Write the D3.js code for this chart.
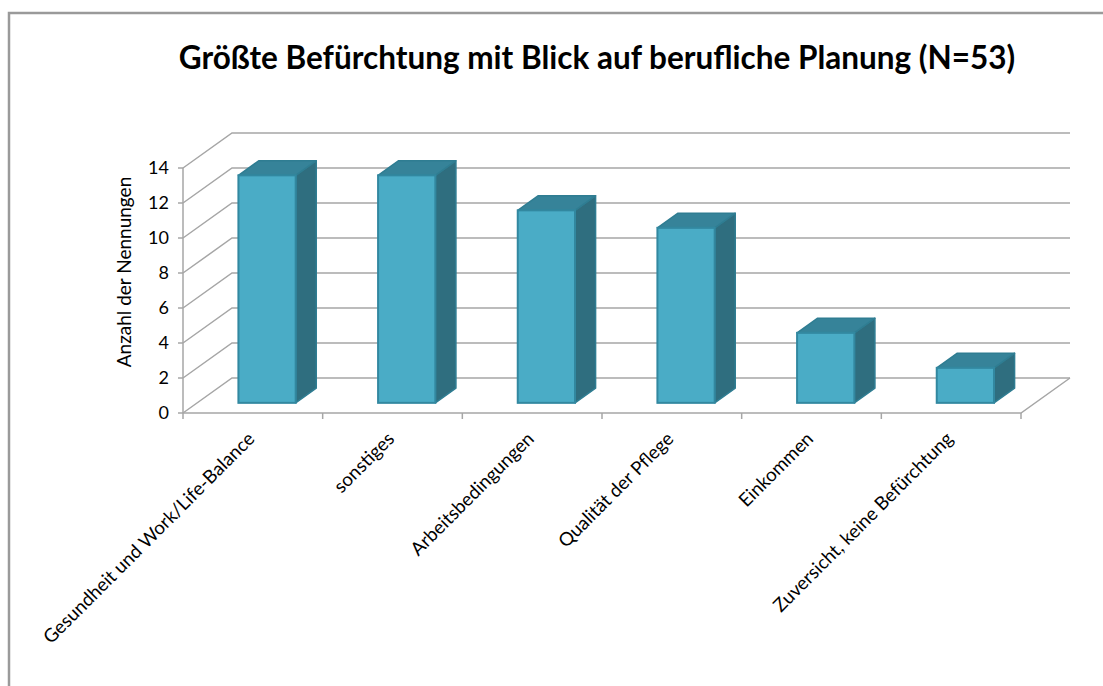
<!DOCTYPE html>
<html><head><meta charset="utf-8">
<script src="https://cdn.jsdelivr.net/npm/d3@7"></script>
<style>
html,body{margin:0;padding:0;background:#fff;}
text{font-family:Lato, "Open Sans", sans-serif;fill:#000;}
</style></head>
<body>
<svg id="chart" width="1103" height="686"></svg>
<script>
const title = "Größte Befürchtung mit Blick auf berufliche Planung (N=53)";
const yTitle = "Anzahl der Nennungen";
const categories = ["Gesundheit und Work/Life-Balance","sonstiges","Arbeitsbedingungen","Qualität der Pflege","Einkommen","Zuversicht, keine Befürchtung"];
const values = [13,13,11,10,4,2];
const yTicks = [0,2,4,6,8,10,12,14];

const svg = d3.select("#chart");
svg.append("rect").attr("x",0).attr("y",0).attr("width",1103).attr("height",686).attr("fill","#fff");
svg.append("path").attr("d","M9,700 L9,13 L1120,13").attr("fill","none").attr("stroke","#9a9a9a").attr("stroke-width",2.5);

const x0 = 183, x1 = 1021, yBase = 413, yTop = 168;
const depthX = 49, depthY = -35;
const x = d3.scaleBand().domain(categories).range([x0,x1]).padding(0);
const y = d3.scaleLinear().domain([0,14]).range([yBase,yTop]);

const grid = svg.append("g").attr("stroke","#a6a6a6").attr("stroke-width",1.5).attr("fill","none");
yTicks.forEach(t=>{
  const yy = y(t);
  grid.append("path").attr("d",`M${x0},${yy} L${x0+depthX},${yy+depthY} L${x1+depthX},${yy+depthY}`);
});
grid.append("path").attr("d",`M${x0},${yBase} L${x1},${yBase} L${x1+depthX},${yBase+depthY}`);
grid.append("line").attr("x1",x0).attr("x2",x0).attr("y1",yBase).attr("y2",yTop);
yTicks.forEach(t=>{
  grid.append("line").attr("x1",x0-5).attr("x2",x0).attr("y1",y(t)).attr("y2",y(t));
});
[...categories.map(c=>x(c)), x1].forEach(px=>{
  grid.append("line").attr("x1",px).attr("x2",px).attr("y1",yBase).attr("y2",yBase+6);
});

svg.append("g").selectAll("text").data(yTicks).join("text")
  .attr("x",x0-14).attr("y",d=>y(d)).attr("dy","0.35em")
  .attr("text-anchor","end").attr("font-size",18).text(d=>d);

svg.append("text").attr("transform","translate(131,272) rotate(-90)")
  .attr("text-anchor","middle").attr("font-size",19).text(yTitle);

svg.append("text").attr("x",597).attr("y",69).attr("text-anchor","middle")
  .attr("font-size",31.5).attr("font-weight","bold").text(title);

const f0 = 0.29, f1 = 0.71;
const bw = x.bandwidth()*0.41;
const bars = svg.append("g");
categories.forEach((c,i)=>{
  const v = values[i];
  const cx = x(c)+x.bandwidth()/2 + f0*depthX;
  const xl = cx - bw/2, xr = cx + bw/2;
  const yb = y(0) + f0*depthY;
  const yt = y(v) + f0*depthY;
  const ddx = (f1-f0)*depthX, ddy = (f1-f0)*depthY;
  bars.append("path").attr("d",`M${xr},${yb} L${xr+ddx},${yb+ddy} L${xr+ddx},${yt+ddy} L${xr},${yt} Z`)
    .attr("fill","#2f6e7f").attr("stroke","#2f7d92").attr("stroke-width",1.5).attr("stroke-linejoin","round");
  bars.append("path").attr("d",`M${xl},${yt} L${xl+ddx},${yt+ddy} L${xr+ddx},${yt+ddy} L${xr},${yt} Z`)
    .attr("fill","#368399").attr("stroke","#2f7d92").attr("stroke-width",1.5).attr("stroke-linejoin","round");
  bars.append("rect").attr("x",xl).attr("y",yt).attr("width",bw).attr("height",yb-yt)
    .attr("fill","#4aacc6").attr("stroke","#3288a0").attr("stroke-width",2);
});

svg.append("g").selectAll("text").data(categories).join("text")
  .attr("transform",d=>`translate(${x(d)+x.bandwidth()/2+3},${yBase+27}) rotate(-45)`)
  .attr("text-anchor","end").attr("font-size",18.7).text(d=>d);
</script>
</body></html>
